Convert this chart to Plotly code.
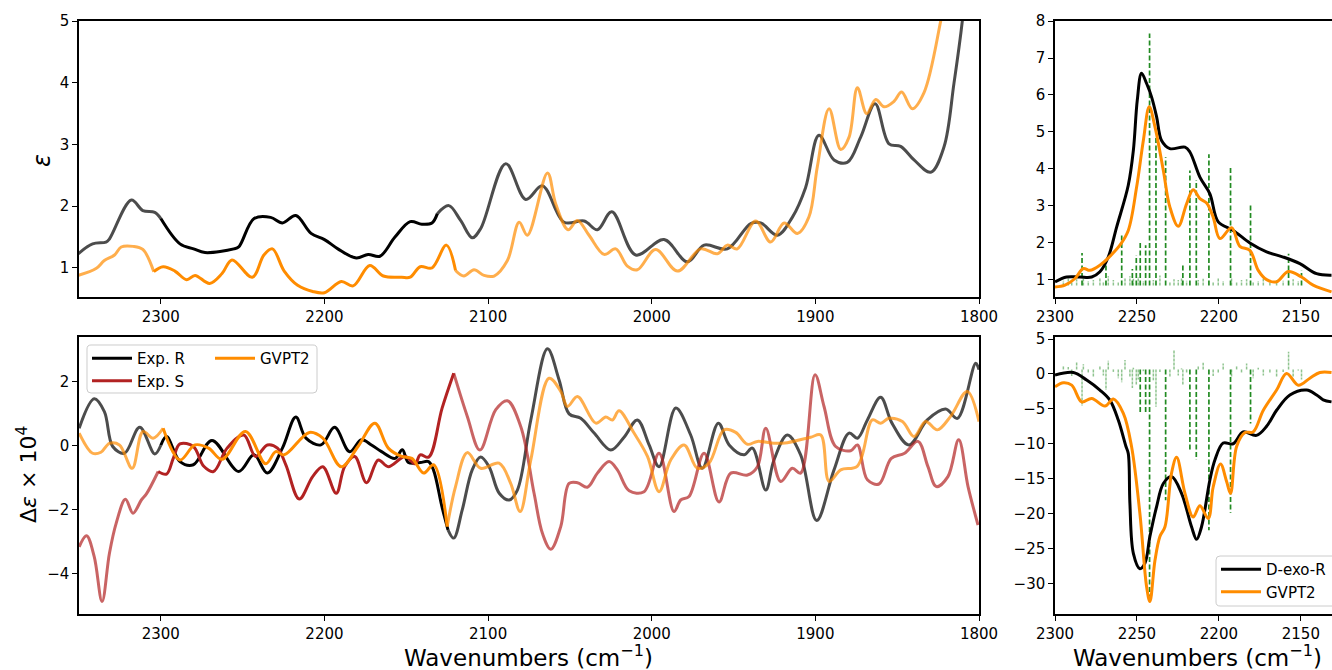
import plotly.graph_objects as go

# ---------------- data: top-left (IR, epsilon) ----------------
ir_expR_w = [2350.5, 2341.7, 2333.5, 2331.4, 2318, 2311, 2303.7, 2300, 2288.3, 2280, 2273, 2255.4, 2252.4, 2243,
             2232.9, 2225.7, 2217.5, 2208.2, 2200, 2191.8, 2180.5, 2173.3, 2166.1, 2156.9, 2147.6, 2140.5, 2134.3,
             2131, 2124, 2116.8, 2109.7, 2104.5, 2089.2, 2077, 2066.8, 2053.6, 2041.3, 2033.2, 2024.4, 2009.8,
             1992.5, 1978.2, 1968, 1953.8, 1939.5, 1933.4, 1923.2, 1914.1, 1906, 1897.8, 1888.6, 1880.5, 1872.3,
             1863.5, 1855, 1847.9, 1839.7, 1829.5, 1821.4, 1815.3, 1810.2, 1806]
ir_expR_v = [1.23, 1.39, 1.42, 1.47, 2.10, 1.93, 1.90, 1.80, 1.39, 1.31, 1.25, 1.31, 1.34, 1.80,
             1.82, 1.73, 1.85, 1.56, 1.46, 1.31, 1.16, 1.22, 1.19, 1.50, 1.75, 1.71, 1.73,
             1.88, 2.01, 1.77, 1.49, 1.64, 2.69, 2.11, 2.33, 1.74, 1.76, 1.62, 1.91, 1.21,
             1.46, 1.10, 1.37, 1.31, 1.72, 1.73, 1.53, 1.82, 2.30, 3.15, 2.75, 2.71, 3.12,
             3.66, 3.01, 2.97, 2.75, 2.55, 2.96, 3.99, 5.0, 6.2]

ir_gvpt2_w = [2350.5, 2339.6, 2334.5, 2328.3, 2324.2, 2317, 2311, 2304.3, 2298.6, 2291.4, 2284.2, 2279.1, 2270.2,
              2262.6, 2256.5, 2244.1, 2237, 2231.8, 2224.6, 2216.4, 2207.2, 2200, 2189.7, 2182.5, 2172.3, 2164,
              2152.8, 2147.6, 2141.5, 2134.3, 2125.5, 2119.9, 2114.8, 2108.6, 2102.5, 2096.3, 2088.2, 2081, 2076,
              2063.7, 2058.7, 2051.1, 2045.4, 2038.3, 2029.1, 2022, 2014.9, 2008.8, 1997.6, 1984.3, 1970.1, 1959.9,
              1953.8, 1947.7, 1936.5, 1927.3, 1919.1, 1911, 1903.9, 1898.8, 1891.6, 1884.5, 1879.4, 1874.3, 1868.6,
              1863.1, 1858, 1851.9, 1847.3, 1840.7, 1833.6, 1823.4, 1818]
ir_gvpt2_v = [0.88, 0.99, 1.12, 1.21, 1.34, 1.35, 1.30, 0.94, 1.02, 0.95, 0.81, 0.88, 0.75,
              0.91, 1.13, 0.85, 1.21, 1.31, 0.95, 0.72, 0.62, 0.60, 0.78, 0.71, 1.04, 0.87,
              0.85, 0.85, 1.02, 1.00, 1.37, 0.96, 0.87, 0.97, 0.88, 0.87, 1.12, 1.74, 1.53,
              2.54, 2.04, 1.62, 1.77, 1.53, 1.22, 1.31, 1.03, 0.97, 1.30, 0.95, 1.31, 1.23,
              1.37, 1.31, 1.76, 1.42, 1.73, 1.56, 1.83, 2.64, 3.58, 2.92, 3.12, 3.92, 3.50,
              3.73, 3.61, 3.70, 3.85, 3.58, 3.84, 5.0, 5.8]

# ---------------- data: bottom-left (VCD, delta epsilon x 1e4) ----------------
vcd_expR_w = [2349.9, 2340.7, 2334.5, 2329.4, 2322.2, 2312.9, 2303.7, 2300, 2296.5, 2288.3, 2280.1, 2268.8, 2252.4,
              2243.1, 2234.9, 2225.7, 2217.5, 2211.3, 2202.1, 2193.8, 2184.6, 2177.4, 2171.3, 2165.1, 2156.9,
              2152.4, 2148.7, 2141.5, 2136.4, 2133.4, 2128.2, 2124.5, 2121, 2115.8, 2109.7, 2104.6, 2099.4,
              2093.2, 2087.1, 2082.1, 2073.9, 2063.7, 2056.6, 2050.5, 2043.4, 2035.2, 2025, 2016.9, 2008.8,
              2001.6, 1995.5, 1985.3, 1976.2, 1969.1, 1959.3, 1952.7, 1943.6, 1938.5, 1930.3, 1925.3, 1917.1,
              1909, 1899.2, 1888.6, 1879.4, 1874.3, 1868.2, 1860.1, 1853.2, 1842.8, 1831.6, 1820.4, 1813.2,
              1802, 1800]
vcd_expR_v = [0.55, 1.47, 1.07, -0.02, -0.23, 0.58, -0.25, 0.02, 0.29, -0.49, -0.59, 0.17, -0.80,
              -0.28, -0.85, -0.07, 0.90, 0.24, 0.03, 0.58, -0.18, 0.19, 0.03, -0.18, -0.39,
              -0.12, -0.52, -0.52, -0.49, -0.75, -1.90, -2.62, -2.88, -2.00, -0.75, -0.35, -0.65,
              -1.48, -1.69, -1.38, 0.81, 3.03, 2.06, 1.00, 0.86, 0.40, -0.13, 0.27, 0.81,
              0.03, -0.65, 1.18, 0.34, -0.70, 0.71, 0.03, -0.28, -0.07, -1.38, -0.44, 0.34,
              -0.28, -2.33, -0.75, 0.40, 0.24, 0.81, 1.52, 0.71, 0.03, 0.81, 1.15, 0.86,
              2.58, 2.38]

vcd_expS_w = [2349.9, 2345.4, 2340.7, 2335.9, 2331.4, 2327.3, 2321.6, 2317, 2311.9, 2308.8, 2301.6, 2296.5, 2292.4,
              2288.3, 2280.1, 2273.9, 2267.8, 2259.5, 2249.3, 2242.1, 2234.9, 2228.7, 2223.6, 2215.4, 2207.2,
              2201, 2192.8, 2187.7, 2181.5, 2174.3, 2167.1, 2161, 2150.7, 2144.6, 2141.5, 2136.3, 2128.1, 2121,
              2112.7, 2105, 2095.3, 2088.2, 2080, 2071.9, 2066.8, 2061.7, 2055.6, 2050.5, 2045.4, 2039.3, 2033.2,
              2026.1, 2021, 2013.8, 2004.7, 1995.5, 1986.4, 1982.3, 1977.2, 1968, 1958.9, 1951.7, 1941.5, 1935.4,
              1930.3, 1921.2, 1914.1, 1909, 1900.2, 1894.7, 1887.6, 1878.4, 1874.3, 1868.2, 1861.1, 1853.6,
              1845.5, 1837.3, 1831.2, 1826.1, 1819, 1812.4, 1806.7, 1800.6]
vcd_expS_v = [-3.15, -2.81, -3.46, -4.86, -3.35, -2.42, -1.67, -2.10, -1.69, -1.50, -0.80, -0.88, -0.39,
              0.06, -0.02, -0.63, -0.80, -0.07, 0.34, -0.33, 0.03, -0.07, -0.59, -1.66, -0.96,
              -0.65, -1.48, -0.65, -0.33, -1.15, -0.44, -0.65, -0.33, -0.56, -0.28, -0.35, 1.18, 2.27,
              0.92, -0.13, 1.13, 1.41, 0.60, -1.48, -2.73, -3.23, -2.52, -1.17, -1.15, -1.29, -0.85,
              -0.49, -0.75, -1.40, -1.43, -0.23, -2.05, -1.69, -1.58, -0.23, -1.75, -0.85, -0.91, -0.65,
              0.55, -1.11, -0.70, -0.85, 2.22, 1.23, -0.02, -0.15, 0.03, -1.06, -1.19, -0.39,
              -0.23, 0.14, -0.65, -1.27, -0.96, 0.19, -1.27, -2.47]

vcd_gvpt2_w = [2349.9, 2341.7, 2336.6, 2331.4, 2325.3, 2317.5, 2310.9, 2304.7, 2298.6, 2288.3, 2279.1, 2270.8,
               2262.6, 2248.3, 2235.9, 2229.8, 2224.6, 2209.2, 2201, 2189.7, 2179.5, 2169.2, 2161, 2152.8, 2146.6,
               2139.4, 2133.3, 2125, 2119.9, 2112.7, 2104.5, 2093.3, 2086.2, 2080.4, 2073.9, 2062.7, 2055.6,
               2051.5, 2045.4, 2034.2, 2028.1, 2024, 2020, 2010.8, 2002.6, 1995.5, 1988.4, 1980.2, 1972.1, 1965,
               1955.8, 1948.7, 1941.5, 1935.4, 1925.3, 1917.1, 1902.9, 1896.7, 1891.6, 1884.5, 1874.3, 1865.2,
               1860.1, 1855, 1846.8, 1839.7, 1832.6, 1825.5, 1817.4, 1807.2, 1800]
vcd_gvpt2_v = [0.40, -0.23, -0.20, 0.08, 0.03, -0.70, 0.45, 0.24, 0.55, -0.44, 0.03, -0.07,
               -0.42, 0.45, -0.56, -0.18, -0.28, 0.42, 0.24, -0.65, -0.02, 0.71, -0.07, -0.33, -0.39,
               -0.85, -0.59, -2.52, -1.27, -0.21, -0.70, -0.54, -1.17, -2.05, -0.44, 2.11, 1.70,
               1.23, 1.54, 0.71, 0.90, 0.81, 1.10, 0.40, -0.33, -1.43, -0.44, 0.03, -0.70, -0.54,
               0.50, 0.42, 0.05, 0.14, 0.08, 0.10, 0.27, 0.34, -1.11, -0.75, -0.63, 0.81,
               0.71, 0.86, 0.76, 0.29, 0.76, 0.50, 0.92, 1.70, 0.76]

# ---------------- data: right panels (D-exo-R) ----------------
zir_exp_w = [2300, 2292.9, 2284.8, 2277.6, 2272.6, 2267.5, 2262.4, 2255.3, 2252.2, 2249.8, 2247.2, 2244.1, 2241.1,
             2238, 2235, 2229.9, 2220.7, 2217.7, 2211.6, 2205.5, 2200.4, 2191.3, 2181.1, 2170.9, 2160.8, 2150.6,
             2140.4, 2131.3]
zir_exp_v = [0.95, 1.08, 1.08, 1.08, 1.22, 1.62, 2.43, 3.56, 4.50, 5.86, 6.59, 6.31, 5.95,
             5.41, 4.77, 4.55, 4.59, 4.46, 3.78, 3.33, 2.57, 2.34, 2.00, 1.76, 1.62, 1.44,
             1.17, 1.13]
zir_gvpt2_w = [2300, 2293.9, 2287.8, 2282.7, 2278.7, 2272.6, 2266.5, 2260.4, 2255.3, 2250.2, 2246.1, 2242.5, 2239,
               2233.9, 2229.9, 2224.8, 2219.7, 2215.7, 2211.6, 2207.5, 2203.5, 2199.4, 2192.3, 2187.2, 2181.1,
               2176, 2170.9, 2164.8, 2157.7, 2149.6, 2142.5, 2131.3]
zir_gvpt2_v = [0.81, 0.86, 1.04, 1.31, 1.26, 1.40, 1.64, 1.94, 2.34, 3.51, 4.77, 5.68, 5.14,
               3.96, 2.97, 2.45, 3.06, 3.44, 3.20, 3.08, 2.70, 2.12, 2.41, 1.91, 1.80,
               1.26, 1.01, 0.95, 1.23, 1.08, 0.86, 0.68]

zvcd_exp_w = [2300, 2288.8, 2280.7, 2272.6, 2266.5, 2261.4, 2256.7, 2255.3, 2254.3, 2252.2, 2248.2, 2245.1, 2242.1,
              2238, 2233.9, 2228.9, 2222.8, 2216.7, 2213.6, 2210.6, 2205.5, 2202.4, 2197.4, 2191.3, 2185.2,
              2177.1, 2170.9, 2164.8, 2156.7, 2146.5, 2140.4, 2136.4, 2131.3]
zvcd_exp_v = [-0.16, 0.22, -0.87, -2.3, -3.74, -6.6, -10.4, -11.4, -18.5, -25.7, -27.9, -27.1, -23.3,
              -19.0, -15.7, -14.7, -17.1, -21.9, -23.7, -21.9, -15.2, -12.3, -9.9, -10.0, -8.3,
              -8.8, -7.5, -5.2, -3.0, -2.3, -3.0, -3.7, -4.0]
zvcd_gvpt2_w = [2300, 2294.9, 2289.8, 2283.7, 2277.6, 2269.5, 2264.4, 2258.3, 2253.3, 2248.2, 2244.1, 2242.1,
                2239, 2236, 2232.9, 2228.9, 2225.8, 2220.7, 2215.7, 2211.6, 2206.5, 2203.5, 2199, 2195.3,
                2192.9, 2189.2, 2184.1, 2179.1, 2172.9, 2164.8, 2158.7, 2151.6, 2144.5, 2138.4, 2131.3]
zvcd_gvpt2_v = [-1.83, -1.26, -1.6, -4.0, -3.5, -4.6, -3.6, -5.65, -10.4, -20.0, -30.5, -32.6,
                -26.7, -23.3, -21.9, -14.2, -11.95, -17.1, -20.5, -18.9, -20.7, -16.2, -12.9, -15.4,
                -17.1, -10.4, -8.4, -8.3, -5.2, -2.3, 0.08, -1.6, -0.6, 0.22, 0.22]

# stick spectra (GVPT2 transitions)
stick_major_w = [2283.5, 2268.9, 2259.3, 2252.8, 2250.4, 2248.0, 2244.7, 2242.3, 2238.4, 2232.5, 2222.0, 2217.7,
                 2213.8, 2206.1, 2192.9, 2180.7, 2157.5, 2149.6]
stick_major_ir = [1.73, 1.40, 2.23, 1.30, 1.67, 2.07, 1.94, 7.66, 4.90, 4.32, 1.40, 3.96,
                  3.70, 4.40, 4.08, 3.05, 1.71, 1.26]
stick_major_vcd = [-4.6, -2.3, -1.2, -2.0, -1.5, -5.6, -5.5, -32.4, -4.7, -18.1, -1.5, -11.1,
                   -12.3, -22.4, -19.9, -7.1, 3.2, -0.8]
stick_minor_w = [2294.9, 2291.9, 2289.8, 2286.8, 2282.7, 2279.7, 2276.6, 2272.6, 2270.5, 2267.5, 2264.4, 2261.4,
                 2257.3, 2254.3, 2252.2, 2249.2, 2246.1, 2240.0, 2236.0, 2229.9, 2227.4, 2224.8, 2222.8, 2219.7,
                 2212.6, 2209.6, 2203.5, 2200.4, 2197.4, 2192.3, 2189.2, 2186.2, 2183.1, 2179.1, 2176.0, 2172.9,
                 2168.9, 2164.8, 2160.8, 2154.7, 2151.6]
stick_minor_ir = [0.98, 1.05, 0.95, 1.02, 1.08, 0.97, 1.00, 1.05, 0.96, 1.10, 1.00, 0.95,
                  1.06, 1.10, 1.03, 1.08, 0.97, 1.00, 1.12, 0.96, 1.02, 1.00, 1.05, 0.98,
                  1.00, 1.03, 0.96, 1.04, 0.97, 1.05, 0.95, 1.00, 1.02, 0.96, 0.97, 1.03,
                  0.95, 1.00, 0.98, 1.02, 0.97]
stick_minor_vcd = [1.2, 1.0, -0.3, 1.76, 1.4, 0.2, -0.5, 1.1, -0.2, 1.9, 0.3, -0.6,
                   2.0, -0.4, 0.9, -0.8, 0.4, -0.9, 0.3, -0.5, 3.5, -0.2, 0.8, 0.1,
                   1.2, 1.6, -0.3, 0.2, 1.5, -0.4, 1.1, 0.2, 1.5, -0.6, 0.9, -0.2,
                   0.2, -0.5, 0.3, -0.4, 0.5]
IR_BASE = 0.85
VCD_BASE = 0.65

# ---------------- styling ----------------
W, H = 1332, 670
FONT = "DejaVu Sans"
BLACK = "#000000"
ORANGE = "#ff8c00"
RED = "#b22222"
FAINT = {BLACK: "rgba(0,0,0,0.7)", ORANGE: "rgba(255,140,0,0.7)", RED: "rgba(178,34,34,0.7)"}
GREEN = "#228b22"
LW = 3


def px_x(p):
    return p / W


def px_y(p):
    return 1 - p / H


fig = go.Figure()


def add_split(w, v, color, hi, lo, xa, ya, name, legend=None, showlegend=False):
    seg1 = [(a, b) for a, b in zip(w, v) if a >= hi]
    seg2 = [(a, b) for a, b in zip(w, v) if hi >= a >= lo]
    seg3 = [(a, b) for a, b in zip(w, v) if a <= lo]
    for seg, col in ((seg1, FAINT[color]), (seg3, FAINT[color])):
        if len(seg) > 1:
            fig.add_trace(go.Scatter(x=[s[0] for s in seg], y=[s[1] for s in seg], mode="lines",
                                     line=dict(color=col, width=LW, shape="spline", smoothing=1.0),
                                     xaxis=xa, yaxis=ya, showlegend=False, hoverinfo="skip"))
    kw = {}
    if legend:
        kw["legend"] = legend
    fig.add_trace(go.Scatter(x=[s[0] for s in seg2], y=[s[1] for s in seg2], mode="lines", name=name,
                             line=dict(color=color, width=LW, shape="spline", smoothing=1.0),
                             xaxis=xa, yaxis=ya, showlegend=showlegend, **kw))


def add_sticks(ws, hs, base, xa, ya, color, width, opacity, dash):
    xs, ys = [], []
    for a, b in zip(ws, hs):
        xs += [a, a, None]
        ys += [base, b, None]
    fig.add_trace(go.Scatter(x=xs, y=ys, mode="lines", opacity=opacity,
                             line=dict(color=color, width=width, dash=dash),
                             xaxis=xa, yaxis=ya, showlegend=False, hoverinfo="skip"))


# top-left
add_split(ir_expR_w, ir_expR_v, BLACK, 2300, 2131, "x", "y", "Exp. R")
add_split(ir_gvpt2_w, ir_gvpt2_v, ORANGE, 2304.3, 2119.9, "x", "y", "GVPT2")

# bottom-left
add_split(vcd_expR_w, vcd_expR_v, BLACK, 2300, 2124.5, "x2", "y2", "Exp. R", "legend", True)
add_split(vcd_expS_w, vcd_expS_v, RED, 2301.6, 2121, "x2", "y2", "Exp. S", "legend", True)
add_split(vcd_gvpt2_w, vcd_gvpt2_v, ORANGE, 2298.6, 2125, "x2", "y2", "GVPT2", "legend2", True)

# top-right sticks + curves
add_sticks(stick_minor_w, stick_minor_ir, IR_BASE, "x3", "y3", GREEN, 1.5, 0.5, "3px,1px")
add_sticks(stick_major_w, stick_major_ir, IR_BASE, "x3", "y3", GREEN, 1.7, 1.0, "5px,2.5px")
fig.add_trace(go.Scatter(x=zir_exp_w, y=zir_exp_v, mode="lines", line=dict(color=BLACK, width=LW, shape="spline"),
                         xaxis="x3", yaxis="y3", showlegend=False))
fig.add_trace(go.Scatter(x=zir_gvpt2_w, y=zir_gvpt2_v, mode="lines", line=dict(color=ORANGE, width=LW, shape="spline"),
                         xaxis="x3", yaxis="y3", showlegend=False))

# bottom-right sticks + curves
vcd_dark_w = [a for a, b in zip(stick_major_w, stick_major_vcd) if abs(b) >= 5]
vcd_dark_v = [b for b in stick_major_vcd if abs(b) >= 5]
vcd_light_w = [a for a, b in zip(stick_major_w, stick_major_vcd) if abs(b) < 5] + stick_minor_w
vcd_light_v = [b for b in stick_major_vcd if abs(b) < 5] + stick_minor_vcd
add_sticks(vcd_light_w, vcd_light_v, VCD_BASE, "x4", "y4", GREEN, 1.5, 0.5, "3px,1px")
add_sticks(vcd_dark_w, vcd_dark_v, VCD_BASE, "x4", "y4", GREEN, 1.7, 1.0, "5px,2.5px")
fig.add_trace(go.Scatter(x=zvcd_exp_w, y=zvcd_exp_v, mode="lines", name="D-exo-R",
                         line=dict(color=BLACK, width=LW, shape="spline"),
                         xaxis="x4", yaxis="y4", legend="legend3"))
fig.add_trace(go.Scatter(x=zvcd_gvpt2_w, y=zvcd_gvpt2_v, mode="lines", name="GVPT2",
                         line=dict(color=ORANGE, width=LW, shape="spline"),
                         xaxis="x4", yaxis="y4", legend="legend3"))

# ---------------- axes ----------------
tickfont = dict(family=FONT, size=15, color="black")
ax_common = dict(showgrid=False, zeroline=False, showline=True, linecolor="black", linewidth=1.5,
                 ticks="outside", ticklen=5, tickwidth=1.3, tickcolor="black", tickfont=tickfont)

L_dom = [px_x(79), px_x(979)]
R_dom = [px_x(1055), 1.0]
T_dom = [px_y(297), px_y(21)]
B_dom = [px_y(614), px_y(337)]

xt_left = [2300, 2200, 2100, 2000, 1900, 1800]
xt_right = [2300, 2250, 2200, 2150]

fig.update_layout(
    xaxis=dict(domain=L_dom, range=[2350, 1800], tickvals=xt_left, mirror=True, anchor="y", **ax_common),
    yaxis=dict(domain=T_dom, range=[0.53, 5], tickvals=[1, 2, 3, 4, 5], mirror=True, anchor="x", **ax_common),
    xaxis2=dict(domain=L_dom, range=[2350, 1800], tickvals=xt_left, mirror=True, anchor="y2", **ax_common),
    yaxis2=dict(domain=B_dom, range=[-5.25, 3.4], tickvals=[-4, -2, 0, 2], mirror=True, anchor="x2", **ax_common),
    xaxis3=dict(domain=R_dom, range=[2300, 2131], tickvals=xt_right, mirror=True, anchor="y3", **ax_common),
    yaxis3=dict(domain=T_dom, range=[0.54, 8], tickvals=[1, 2, 3, 4, 5, 6, 7, 8], anchor="x3", **ax_common),
    xaxis4=dict(domain=R_dom, range=[2300, 2131], tickvals=xt_right, mirror=True, anchor="y4", **ax_common),
    yaxis4=dict(domain=B_dom, range=[-34.4, 5.3], tickvals=[5, 0, -5, -10, -15, -20, -25, -30], anchor="x4",
                **ax_common),
)

# ---------------- legends ----------------
leg_font = dict(family=FONT, size=15, color="black")
leg_common = dict(xanchor="left", yanchor="top", bgcolor="rgba(0,0,0,0)", borderwidth=0, font=leg_font,
                  itemwidth=40, tracegroupgap=0)
fig.update_layout(
    legend=dict(x=px_x(87), y=px_y(342), **leg_common),
    legend2=dict(x=px_x(210), y=px_y(342), **leg_common),
    legend3=dict(x=px_x(1216), y=px_y(553), **leg_common),
)


def rounded_box(x0, y0, x1, y1, r=4):
    def P(x, y):
        return f"{px_x(x):.6f},{px_y(y):.6f}"
    path = (f"M{P(x0 + r, y0)} L{P(x1 - r, y0)} Q{P(x1, y0)} {P(x1, y0 + r)} "
            f"L{P(x1, y1 - r)} Q{P(x1, y1)} {P(x1 - r, y1)} L{P(x0 + r, y1)} Q{P(x0, y1)} {P(x0, y1 - r)} "
            f"L{P(x0, y0 + r)} Q{P(x0, y0)} {P(x0 + r, y0)} Z")
    return dict(type="path", xref="paper", yref="paper", path=path,
                line=dict(color="#cccccc", width=1), fillcolor="rgba(255,255,255,0.8)", layer="above")


fig.update_layout(shapes=[rounded_box(87, 345, 317, 393), rounded_box(1216, 556, 1340, 606)])

# ---------------- axis titles ----------------
annots = [
    dict(text="<i>ε</i>", x=px_x(42), y=px_y(160), textangle=-90, font=dict(family=FONT, size=24)),
    dict(text="Δ<i>ε</i> × 10<sup>4</sup>", x=px_x(27), y=px_y(475), textangle=-90, font=dict(family=FONT, size=22)),
    dict(text="Wavenumbers (cm<sup>−1</sup>)", x=px_x(528), y=px_y(656), font=dict(family=FONT, size=23)),
    dict(text="Wavenumbers (cm<sup>−1</sup>)", x=px_x(1197), y=px_y(656), font=dict(family=FONT, size=23)),
]
for a in annots:
    a.update(xref="paper", yref="paper", showarrow=False, xanchor="center", yanchor="middle")
    a["font"]["color"] = "black"
fig.update_layout(annotations=annots)

fig.update_layout(width=W, height=H, margin=dict(l=0, r=0, t=0, b=0, pad=0, autoexpand=False),
                  plot_bgcolor="white", paper_bgcolor="white", font=dict(family=FONT, color="black"))

fig.write_html("out.html")
